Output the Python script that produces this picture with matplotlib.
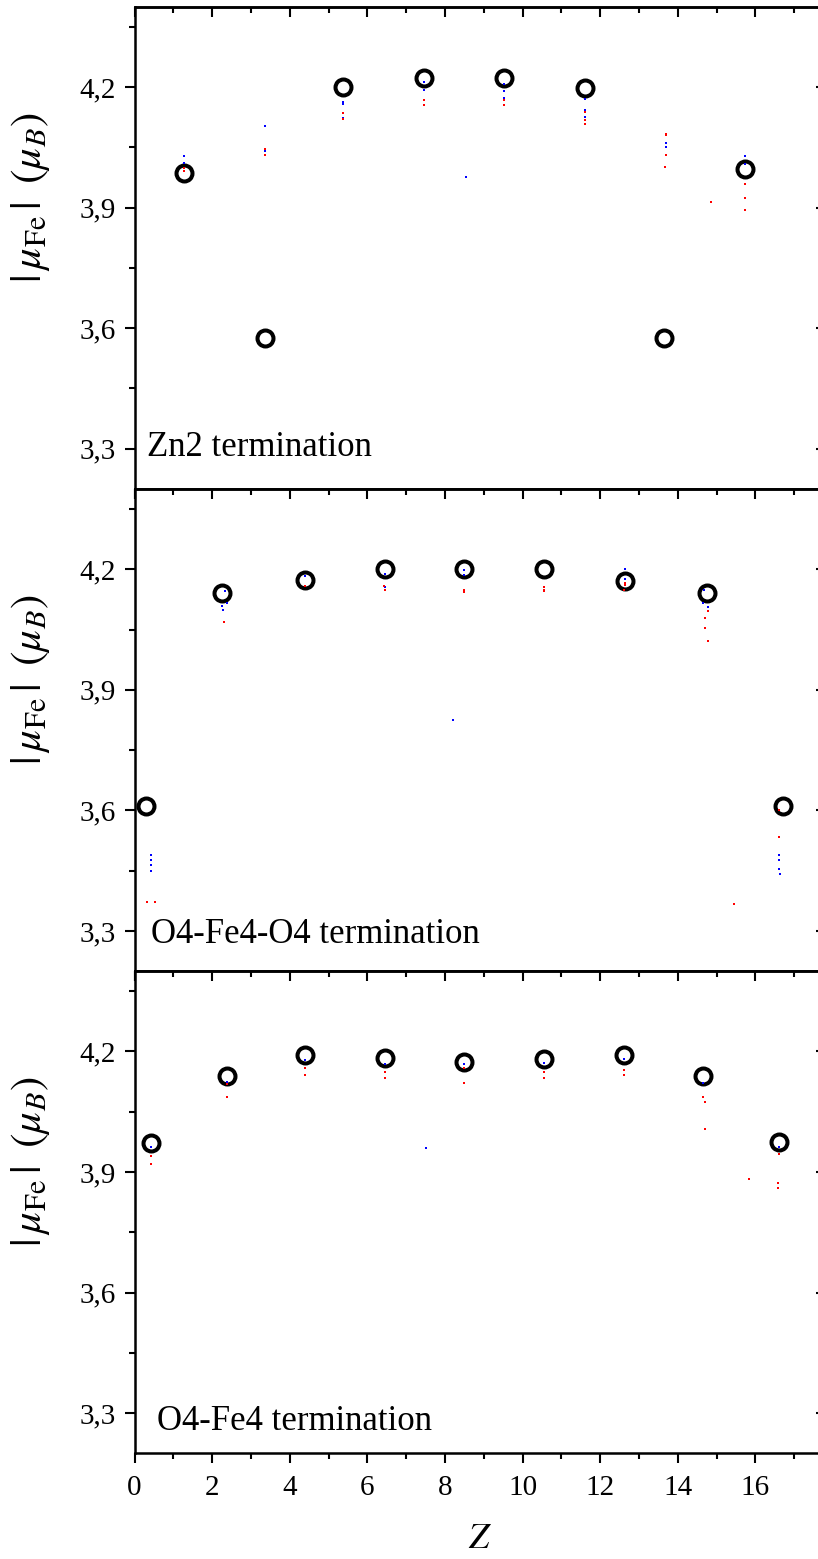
import matplotlib
matplotlib.use("Agg")
import matplotlib.pyplot as plt
from matplotlib.ticker import MultipleLocator, FuncFormatter

plt.rcParams['font.family'] = ['Liberation Serif', 'DejaVu Serif']
plt.rcParams['mathtext.fontset'] = 'stix'

# ---------------- data ----------------
panel_labels = ["Zn2 termination", "O4-Fe4-O4 termination", "O4-Fe4 termination"]

# Zn2 termination
circ_z_top = [1.27, 3.37, 5.38, 7.47, 9.53, 11.61, 13.65, 15.74]
circ_m_top = [3.985, 3.575, 4.200, 4.222, 4.222, 4.198, 3.575, 3.997]
blue_z_top = [1.27, 1.27, 3.37, 3.37, 5.38, 5.38, 5.38, 7.47, 7.47, 9.53, 9.53, 9.53,
              11.61, 11.61, 11.61, 13.69, 13.69, 15.74, 15.74, 8.54]
blue_m_top = [4.028, 4.010, 4.104, 4.040, 4.164, 4.157, 4.124, 4.212, 4.192, 4.208, 4.190, 4.173,
              4.170, 4.143, 4.125, 4.061, 4.050, 4.028, 4.009, 3.975]
red_z_top = [1.27, 1.27, 3.37, 3.37, 5.38, 5.38, 7.47, 7.47, 9.53, 9.53,
             11.61, 11.61, 11.61, 13.69, 13.69, 13.69, 13.67, 15.73, 15.73, 15.73, 14.85]
red_m_top = [3.998, 3.991, 4.046, 4.032, 4.135, 4.121, 4.169, 4.155, 4.167, 4.155,
             4.137, 4.119, 4.109, 4.084, 4.080, 4.031, 4.001, 3.959, 3.924, 3.893, 3.914]

# O4-Fe4-O4 termination
circ_z_mid = [0.30, 2.25, 4.38, 6.45, 8.50, 10.55, 12.63, 14.75, 16.70]
circ_m_mid = [3.612, 4.142, 4.173, 4.200, 4.200, 4.200, 4.171, 4.142, 3.612]
blue_z_mid = [0.43, 0.43, 0.43, 0.43, 2.33, 2.38, 2.25, 2.27, 4.38, 6.45, 6.45, 8.50, 8.50,
              8.20, 12.63, 12.63, 14.68, 14.66, 14.78, 14.78, 16.60, 16.60, 16.62, 16.63]
blue_m_mid = [3.489, 3.477, 3.464, 3.450, 4.146, 4.117, 4.108, 4.098, 4.183, 4.189, 4.156, 4.197, 4.186,
              3.825, 4.200, 4.177, 4.148, 4.116, 4.106, 4.096, 3.489, 3.477, 3.453, 3.442]
red_z_mid = [0.31, 0.52, 2.30, 4.38, 6.44, 6.45, 8.50, 8.50, 10.55, 10.55, 10.55,
             12.64, 12.64, 12.62, 14.78, 14.70, 14.70, 14.79, 16.61, 16.62, 15.44]
red_m_mid = [3.371, 3.371, 4.068, 4.158, 4.159, 4.148, 4.148, 4.143, 4.155, 4.148, 4.145,
             4.166, 4.160, 4.148, 4.096, 4.078, 4.055, 4.022, 3.534, 3.600, 3.367]

# O4-Fe4 termination
circ_z_bot = [0.43, 2.38, 4.40, 6.45, 8.50, 10.56, 12.62, 14.64, 16.61]
circ_m_bot = [3.972, 4.140, 4.190, 4.183, 4.174, 4.181, 4.190, 4.140, 3.974]
blue_z_bot = [0.43, 2.38, 4.40, 6.45, 8.50, 10.56, 12.62, 14.64, 16.61, 7.50]
blue_m_bot = [3.962, 4.125, 4.180, 4.170, 4.168, 4.172, 4.182, 4.122, 3.962, 3.959]
red_z_bot = [0.43, 0.43, 2.38, 2.38, 4.40, 4.40, 6.45, 6.45, 8.50, 8.50, 10.56, 10.56,
             12.62, 12.62, 14.64, 14.69, 14.69, 15.83, 16.61, 16.58, 16.58]
red_m_bot = [3.941, 3.921, 4.118, 4.087, 4.160, 4.142, 4.150, 4.135, 4.160, 4.122, 4.150, 4.135,
             4.155, 4.142, 4.087, 4.073, 4.007, 3.883, 3.946, 3.873, 3.859]

y_major = [3.3, 3.6, 3.9, 4.2]
x_major = [0, 2, 4, 6, 8, 10, 12, 14, 16]

panels = [
    (circ_z_top, circ_m_top, blue_z_top, blue_m_top, red_z_top, red_m_top),
    (circ_z_mid, circ_m_mid, blue_z_mid, blue_m_mid, red_z_mid, red_m_mid),
    (circ_z_bot, circ_m_bot, blue_z_bot, blue_m_bot, red_z_bot, red_m_bot),
]
text_pos = [(0.018, 0.069), (0.023, 0.059), (0.032, 0.048)]

# ---------------- figure ----------------
W, H = 818, 1559
fig = plt.figure(figsize=(W / 100, H / 100), dpi=100)
left_px, right_px = 134.6, 826.0
top_px, bottom_px = 6.7, 1453.3
ph = (bottom_px - top_px) / 3
xmax = (right_px - left_px) / 38.8

comma = FuncFormatter(lambda v, p: f"{v:.1f}".replace('.', ','))
axes = []
for i, (cz, cm, bz, bm, rz, rm) in enumerate(panels):
    ytop = top_px + i * ph
    rect = [left_px / W, 1 - (ytop + ph) / H, (right_px - left_px) / W, ph / H]
    ax = fig.add_axes(rect, sharex=axes[0] if axes else None)
    axes.append(ax)
    ax.plot(cz, cm, 'o', mfc='none', mec='black', ms=11.5, mew=2.9, zorder=2)
    ax.plot(bz, bm, 's', ms=1.7, mew=0, color='#0000ff', zorder=3)
    ax.plot(rz, rm, 's', ms=1.7, mew=0, color='#ff0000', zorder=3)
    ax.set_ylim(3.2, 4.4)
    ax.set_xlim(0, xmax)
    ax.set_yticks(y_major)
    ax.yaxis.set_minor_locator(MultipleLocator(0.15))
    ax.yaxis.set_major_formatter(comma)
    ax.set_xticks(x_major)
    ax.xaxis.set_minor_locator(MultipleLocator(1))
    for s in ax.spines.values():
        s.set_linewidth(1.8)
    ax.tick_params(axis='both', which='major', direction='out', length=7.5, width=1.5,
                   labelsize=21, top=False, right=False)
    ax.tick_params(axis='both', which='minor', direction='out', length=4, width=1.5,
                   top=False, right=False)
    ax.tick_params(axis='y', pad=6)
    ax.tick_params(axis='x', pad=8)
    if i < 2:
        ax.tick_params(axis='x', labelbottom=False)
    # top & right: inward ticks
    sx = ax.secondary_xaxis('top')
    sx.set_xticks(x_major)
    sx.xaxis.set_minor_locator(MultipleLocator(1))
    sx.tick_params(which='major', direction='in', length=7.5, width=1.5, labeltop=False)
    sx.tick_params(which='minor', direction='in', length=4, width=1.5)
    sx.spines['top'].set_linewidth(1.8)
    sy = ax.secondary_yaxis('right')
    sy.set_yticks(y_major)
    sy.yaxis.set_minor_locator(MultipleLocator(0.15))
    sy.tick_params(which='major', direction='in', length=7.5, width=1.5, labelright=False)
    sy.tick_params(which='minor', direction='in', length=3, width=1.5)
    sy.spines['right'].set_linewidth(1.8)
    ax.set_ylabel(r'$|\,\mu_{\rm Fe}\,|\;\;(\mu_B)$', fontsize=31)
    ax.yaxis.set_label_coords(-0.12, 0.605)
    tx, ty = text_pos[i]
    ax.text(tx, ty, panel_labels[i], transform=ax.transAxes, fontsize=25,
            ha='left', va='baseline')

axes[2].set_xlabel(r'$Z$', fontsize=26, labelpad=16)

fig.savefig('out.png', dpi=100)
